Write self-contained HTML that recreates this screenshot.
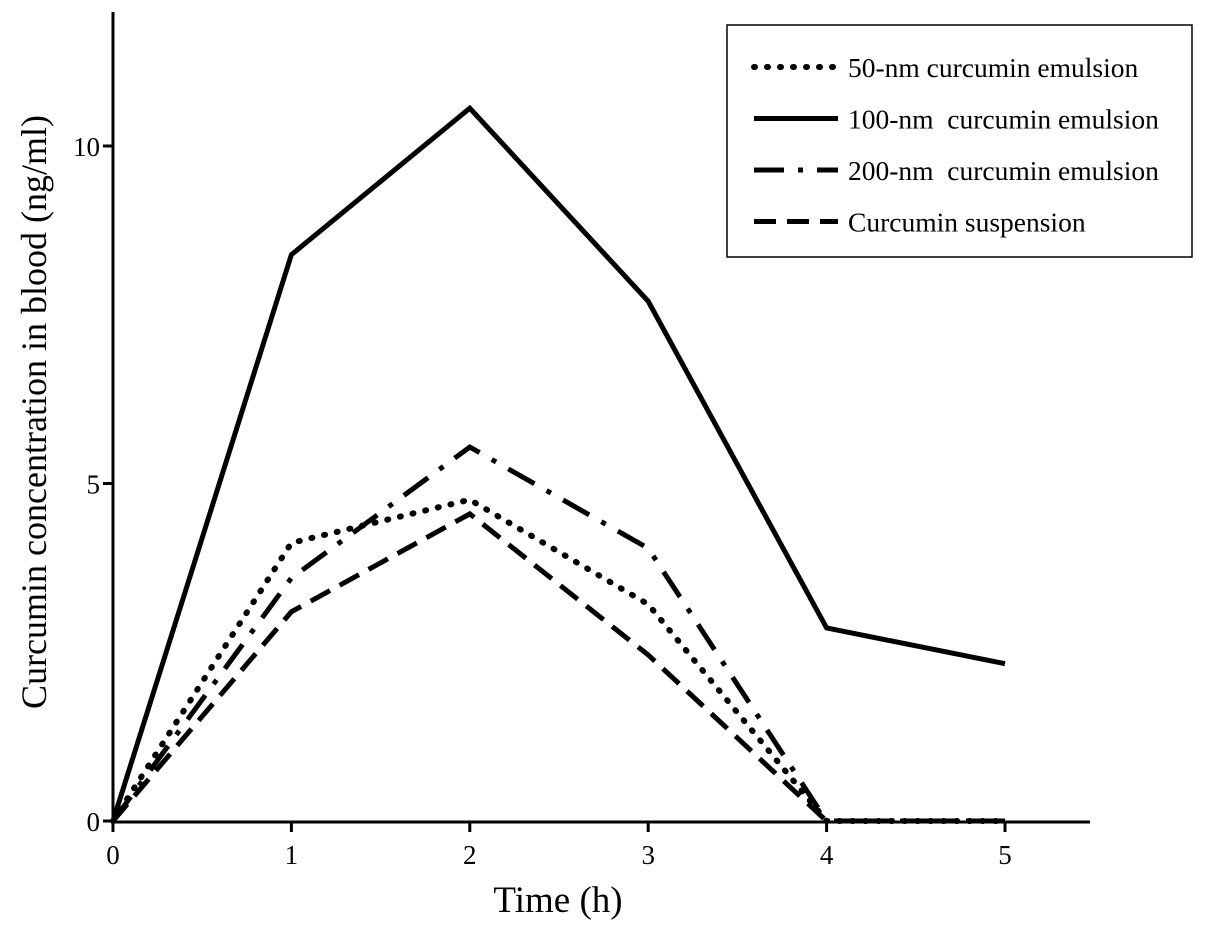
<!DOCTYPE html>
<html><head><meta charset="utf-8"><style>
body{margin:0;background:#fff}
svg{display:block;font-family:"Liberation Serif",serif}
text{white-space:pre}
</style></head><body>
<svg id="chart" width="1205" height="930" viewBox="0 0 1205 930" xmlns="http://www.w3.org/2000/svg">
<g id="axes"></g>
<g id="series"></g>
<g id="legend"></g>
</svg>
<script>
const times = [0, 1, 2, 3, 4, 5];
const xTicks = [0, 1, 2, 3, 4, 5];
const yTicks = [0, 5, 10];
const nm50 = [0, 4.12, 4.76, 3.21, 0, 0];
const nm100 = [0, 8.39, 10.56, 7.7, 2.86, 2.33];
const nm200 = [0, 3.6, 5.54, 4.04, 0, 0];
const suspension = [0, 3.1, 4.55, 2.46, 0, 0];
const seriesNames = ["50-nm curcumin emulsion", "100-nm  curcumin emulsion", "200-nm  curcumin emulsion", "Curcumin suspension"];

const NS = "http://www.w3.org/2000/svg";
const xS = v => 113 + v * 178.4;
const yS = v => 821 - v * 67.5;
function mk(tag, attrs, parent){const e=document.createElementNS(NS,tag);for(const k in attrs)e.setAttribute(k,attrs[k]);parent.appendChild(e);return e;}
const axes = document.getElementById('axes');
let a = mk('line',{x1:113,y1:12,x2:113,y2:823,stroke:'#000','stroke-width':3},axes);


a = mk('line',{x1:111,y1:822,x2:1090,y2:822,stroke:'#000','stroke-width':3},axes);


xTicks.forEach(t=>{
  const l = mk('line',{x1:xS(t),y1:822,x2:xS(t),y2:832,stroke:'#000','stroke-width':3},axes);
  
  
  const tx = mk('text',{x:xS(t),y:864,'text-anchor':'middle','font-size':27},axes);
  tx.textContent = t;
  
  
});
yTicks.forEach(t=>{
  const l = mk('line',{x1:103,y1:yS(t),x2:113,y2:yS(t),stroke:'#000','stroke-width':3},axes);
  
  
  const tx = mk('text',{x:100,y:yS(t)+10,'text-anchor':'end','font-size':27},axes);
  tx.textContent = t;
  
  
});
let tt = mk('text',{x:558,y:912,'text-anchor':'middle','font-size':37},axes);
tt.textContent='Time (h)';


tt = mk('text',{x:0,y:0,'text-anchor':'middle','font-size':36,transform:'translate(46,412) rotate(-90)'},axes);
tt.textContent='Curcumin concentration in blood (ng/ml)';



const styles = [
  {d:'1 12', cap:'round', w:6},
  {d:'none', cap:'butt', w:5},
  {d:'30 14 5 14', cap:'butt', w:5},
  {d:'22 11', cap:'butt', w:5}
];
const data = [nm50, nm100, nm200, suspension];
const sg = document.getElementById('series');
data.forEach((vals,i)=>{
  const pts = times.map((t,j)=>xS(t)+','+yS(vals[j])).join(' ');
  const p = mk('polyline',{points:pts,fill:'none',stroke:'#000','stroke-width':styles[i].w,'stroke-dasharray':styles[i].d,'stroke-linecap':styles[i].cap,'stroke-linejoin':'miter'},sg);
  
  
});
const lg = document.getElementById('legend');
const box = mk('rect',{x:727,y:25,width:465,height:232,fill:'#fff',stroke:'#000','stroke-width':1.5},lg);


seriesNames.forEach((n,i)=>{
  const y = 67 + i*51.5;
  const l = mk('line',{x1:754,y1:y,x2:838,y2:y,stroke:'#000','stroke-width':styles[i].w,'stroke-dasharray':styles[i].d,'stroke-linecap':styles[i].cap},lg);
  
  
  const t = mk('text',{x:848,y:y+10,'font-size':27.5},lg);
  t.textContent = n;
  
  
});
</script>
</body></html>
